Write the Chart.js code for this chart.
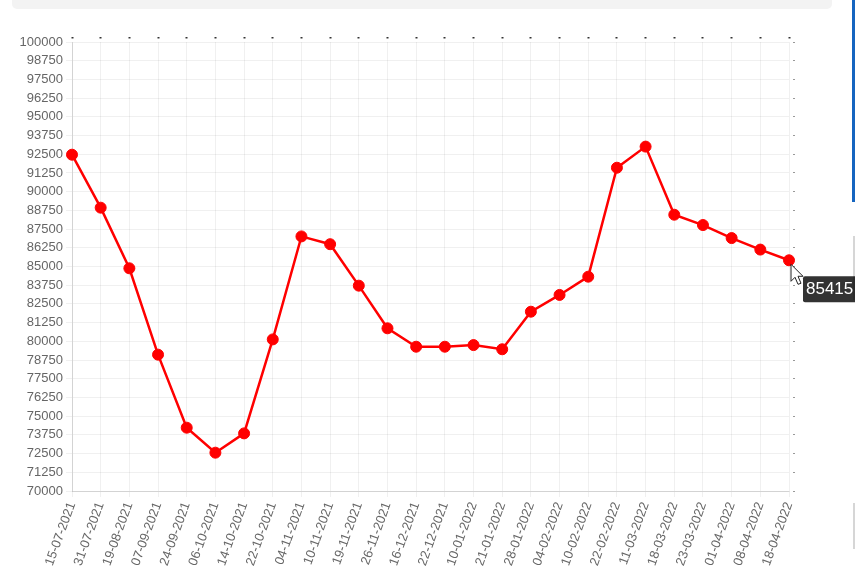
<!DOCTYPE html>
<html>
<head>
<meta charset="utf-8">
<script src="https://cdn.jsdelivr.net/npm/chart.js@4/dist/chart.umd.min.js"></script>
<style>
  html, body { margin: 0; padding: 0; background: #fff; overflow: hidden; }
  #wrap { position: relative; width: 855px; height: 584px; }
  #topbar { position: absolute; left: 12px; top: 0; width: 820px; height: 9px; background: #f3f3f3; border-radius: 0 0 5px 5px; }
  #blueline { position: absolute; left: 852px; top: 0; width: 3px; height: 202px; background: #1565c0; }
  .greyedge { position: absolute; left: 853px; width: 2px; background: #d6d6d6; }
  #box { position: absolute; left: 0; top: 0; width: 855px; height: 584px; }
</style>
</head>
<body>
<div id="wrap">
  <div id="topbar"></div>
  <div id="blueline"></div>
  <div class="greyedge" style="top:236px;height:64px"></div>
  <div class="greyedge" style="top:503px;height:46px"></div>
  <div id="box"><canvas id="chart"></canvas></div>
</div>
<script>
const dateLabels = [
  "15-07-2021", "31-07-2021", "19-08-2021", "07-09-2021", "24-09-2021", "06-10-2021",
  "14-10-2021", "22-10-2021", "04-11-2021", "10-11-2021", "19-11-2021", "26-11-2021",
  "16-12-2021", "22-12-2021", "10-01-2022", "21-01-2022", "28-01-2022", "04-02-2022",
  "10-02-2022", "22-02-2022", "11-03-2022", "18-03-2022", "23-03-2022", "01-04-2022",
  "08-04-2022", "18-04-2022"
];
const priceValues = [
  92470, 88930, 84880, 79110, 74230, 72560,
  73850, 80130, 87010, 86490, 83720, 80870,
  79640, 79640, 79750, 79470, 81980, 83100,
  84320, 91600, 93010, 88460, 87770, 86900,
  86130, 85415
];
const yMin = 70000;
const yMax = 100000;
const yStep = 1250;

const gridColor = "rgba(0,0,0,0.06)";
const labelFont = { family: "Arial, 'Liberation Sans', sans-serif", size: 13 };

// fake hover tooltip + mouse pointer on the last point
const hoverTip = {
  id: "hoverTip",
  afterDraw(chart) {
    const pts = chart.getDatasetMeta(0).data;
    const pt = pts[pts.length - 1];
    const ctx = chart.ctx;
    const text = String(priceValues[priceValues.length - 1]);
    ctx.save();
    ctx.font = "17px Arial, 'Liberation Sans', sans-serif";
    const bx = pt.x + 14, by = pt.y + 16;
    const w = ctx.measureText(text).width + 8;
    ctx.fillStyle = "rgba(0,0,0,0.8)";
    ctx.beginPath();
    ctx.roundRect(bx, by, w, 26, 2);
    ctx.fill();
    ctx.fillStyle = "#fff";
    ctx.textBaseline = "middle";
    ctx.fillText(text, bx + 3, by + 13);

    // arrow cursor
    const cx = pt.x + 2, cy = pt.y + 4;
    ctx.beginPath();
    ctx.moveTo(cx, cy);
    ctx.lineTo(cx, cy + 17);
    ctx.lineTo(cx + 4, cy + 13);
    ctx.lineTo(cx + 7, cy + 20);
    ctx.lineTo(cx + 10, cy + 19);
    ctx.lineTo(cx + 7, cy + 12);
    ctx.lineTo(cx + 12, cy + 12);
    ctx.closePath();
    ctx.fillStyle = "#fff";
    ctx.fill();
    ctx.strokeStyle = "#222";
    ctx.lineWidth = 1;
    ctx.stroke();
    ctx.restore();
  }
};

new Chart(document.getElementById("chart"), {
  type: "line",
  data: {
    labels: dateLabels,
    datasets: [{
      data: priceValues,
      borderColor: "#ff0000",
      backgroundColor: "#ff0000",
      borderWidth: 2.5,
      pointRadius: 5.5,
      pointBorderWidth: 1,
      tension: 0,
      fill: false
    }]
  },
  options: {
    responsive: true,
    maintainAspectRatio: false,
    animation: false,
    events: [],
    layout: { padding: { left: 18, top: 36, right: 58, bottom: 0 } },
    plugins: {
      legend: { display: false },
      tooltip: { enabled: false }
    },
    scales: {
      x: {
        position: "bottom",
        grid: { color: gridColor, tickLength: 6 },
        border: { color: "rgba(0,0,0,0.12)" },
        ticks: {
          color: "#666",
          font: labelFont,
          autoSkip: false,
          minRotation: 70,
          maxRotation: 70,
          padding: 3
        },
        afterFit(scale) { scale.height = 93; }
      },
      xTop: {
        axis: "x",
        type: "category",
        position: "top",
        ticks: { display: false },
        border: { display: false },
        grid: {
          drawOnChartArea: false,
          tickLength: 6,
          tickColor: "#333",
          tickWidth: 2,
          tickBorderDash: [0, 1, 1.5, 20]
        },
        afterFit(scale) { scale.height = 6; }
      },
      y: {
        position: "left",
        min: yMin,
        max: yMax,
        grid: { color: gridColor, tickLength: 6 },
        border: { color: "rgba(0,0,0,0.12)" },
        ticks: {
          stepSize: yStep,
          color: "#666",
          font: labelFont,
          padding: 3,
          callback: (v) => String(v)
        },
        afterFit(scale) { scale.width = 54; }
      },
      yRight: {
        axis: "y",
        type: "linear",
        position: "right",
        min: yMin,
        max: yMax,
        ticks: { display: false, stepSize: yStep },
        border: { display: false },
        grid: {
          drawOnChartArea: false,
          tickLength: 8,
          tickColor: "#999",
          tickWidth: 1,
          tickBorderDash: [0, 4, 2, 20]
        },
        afterFit(scale) { scale.width = 8; }
      }
    }
  },
  plugins: [hoverTip]
});
</script>
</body>
</html>
